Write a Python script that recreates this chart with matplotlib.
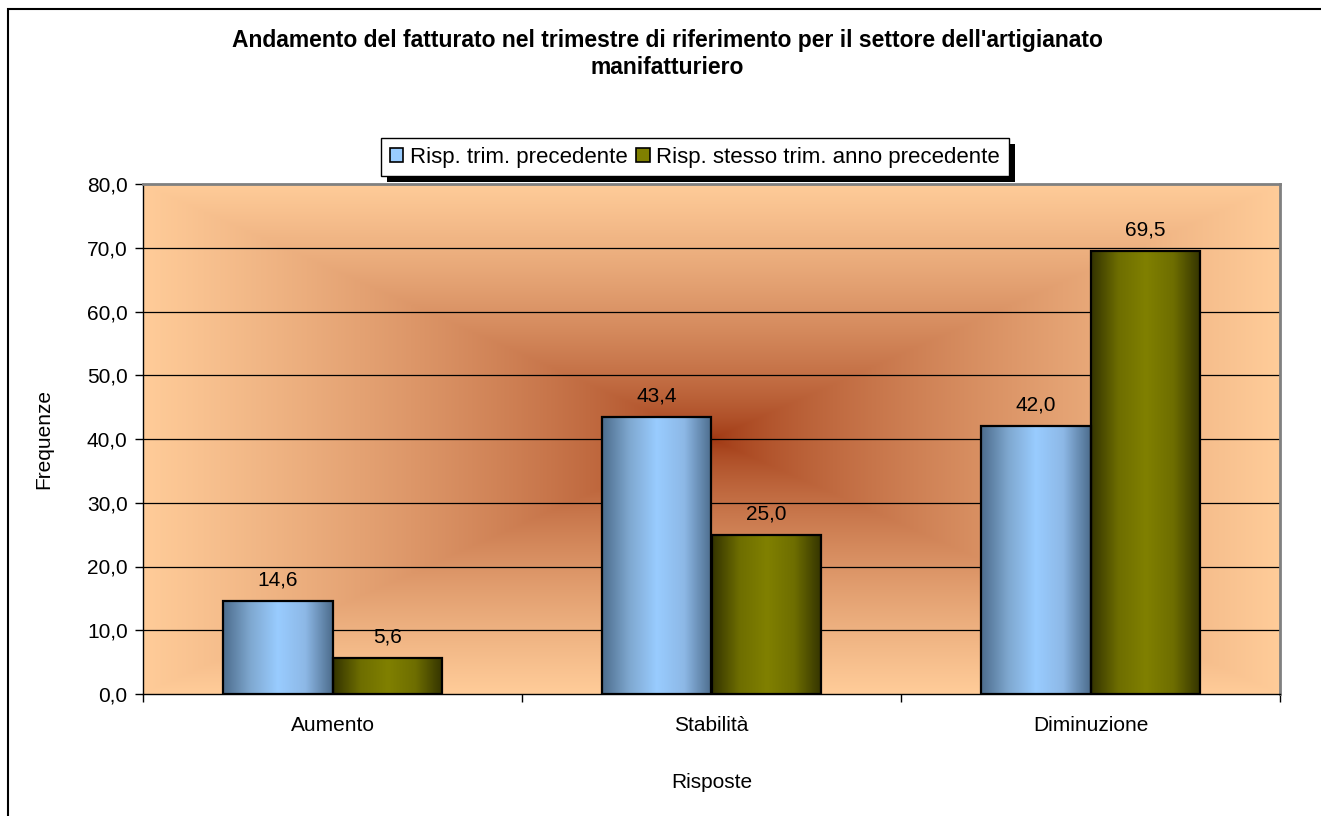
import numpy as np
import matplotlib
matplotlib.use("Agg")
import matplotlib.pyplot as plt
from matplotlib.colors import LinearSegmentedColormap, to_rgb
from matplotlib.patches import Rectangle, Patch

plt.rcParams['font.family'] = ['Liberation Sans', 'DejaVu Sans']

categories = ["Aumento", "Stabilità", "Diminuzione"]
series_names = ["Risp. trim. precedente", "Risp. stesso trim. anno precedente"]
prev_quarter = [14.6, 43.4, 42.0]
prev_year = [5.6, 25.0, 69.5]
y_ticks = [0, 10, 20, 30, 40, 50, 60, 70, 80]

FS = 15
W, H = 1321, 816
fig = plt.figure(figsize=(W / 100, H / 100), dpi=100)
fig.patch.set_facecolor("white")

# outer chart frame
fig.add_artist(Rectangle((8 / W, -0.05), 1.2, 1 - 9 / H + 0.05,
                         transform=fig.transFigure, fill=False,
                         edgecolor="black", linewidth=1.5))

ax = fig.add_axes([143 / W, 1 - 694 / H, (1280 - 143) / W, (694 - 184) / H])

# plot-area background: rectangular gradient, dark centre to peach edges
edge_c = np.array(to_rgb("#FFCC99"))
centre_c = np.array(to_rgb("#9E3510"))
nx, ny = 600, 300
gx = np.linspace(-1, 1, nx)
gy = np.linspace(-1, 1, ny)
X, Y = np.meshgrid(gx, gy)
t = np.maximum(np.abs(X), np.abs(Y))
t = np.clip(t, 0, 1) ** 0.68
bg = centre_c[None, None, :] * (1 - t[..., None]) + edge_c[None, None, :] * t[..., None]
ax.imshow(bg, extent=[0, 1, 0, 1], transform=ax.transAxes, aspect="auto",
          zorder=0, interpolation="bilinear")

ax.set_xlim(0, 3)
ax.set_ylim(0, 80)

for yv in y_ticks[1:-1]:
    ax.axhline(yv, color="black", linewidth=0.9, zorder=1)

x = np.arange(len(categories)) + 0.5
bw = 0.29

blue_cmap = LinearSegmentedColormap.from_list(
    "blue_bar", ["#4C6C8C", "#7FA8D0", "#99CCFF", "#8DB8E6", "#4C6C8C"])
olive_cmap = LinearSegmentedColormap.from_list(
    "olive_bar", ["#333300", "#6E6E00", "#808000", "#6E6E00", "#333300"])

grad = np.linspace(0, 1, 256)[None, :]


def gradient_bars(xs, heights, cmap):
    bars = ax.bar(xs, heights, width=bw, align="edge", facecolor="none",
                  edgecolor="black", linewidth=1.6, zorder=4)
    for b in bars:
        x0, y0 = b.get_x(), b.get_y()
        im = ax.imshow(grad, cmap=cmap, extent=[x0, x0 + b.get_width(), y0, y0 + b.get_height()],
                       aspect="auto", zorder=3, interpolation="bilinear")
        im.set_clip_path(b)
    return bars


b1 = gradient_bars(x - bw, prev_quarter, blue_cmap)
b2 = gradient_bars(x, prev_year, olive_cmap)

for bars, vals in ((b1, prev_quarter), (b2, prev_year)):
    for b, v in zip(bars, vals):
        ax.text(b.get_x() + b.get_width() / 2, v + 1.8, f"{v:.1f}".replace(".", ","),
                ha="center", va="bottom", fontsize=FS, zorder=5)

ax.set_xlim(0, 3)
ax.set_ylim(0, 80)
ax.set_yticks(y_ticks)
ax.set_yticklabels([f"{v:.1f}".replace(".", ",") for v in y_ticks], fontsize=FS)
ax.set_xticks([0, 1, 2, 3])
ax.set_xticklabels([])
ax.set_xticks(x, minor=True)
ax.set_xticklabels(categories, minor=True, fontsize=FS)
ax.tick_params(axis="x", which="minor", length=0, pad=16)
ax.tick_params(axis="x", which="major", length=6, width=1, direction="out")
ax.tick_params(axis="y", length=6, width=1, direction="out", pad=5)

for s in ("top", "right"):
    ax.spines[s].set_color("#808080")
    ax.spines[s].set_linewidth(2)
for s in ("left", "bottom"):
    ax.spines[s].set_color("black")
    ax.spines[s].set_linewidth(1)

ax.set_ylabel("Frequenze", fontsize=FS, labelpad=24)
ax.set_xlabel("Risposte", fontsize=FS, labelpad=27)

fig.text(667 / W, 1 - 40 / H, "Andamento del fatturato nel trimestre di riferimento per il settore dell'artigianato",
         ha="center", va="center", fontsize=16.5, fontweight="bold")
fig.text(667 / W, 1 - 68 / H, "manifatturiero",
         ha="center", va="center", fontsize=16.5, fontweight="bold")

# legend with drop shadow
handles = [Patch(facecolor="#99CCFF", edgecolor="black", linewidth=1.2),
           Patch(facecolor="#808000", edgecolor="black", linewidth=1.2)]
leg = fig.legend(handles, series_names, loc="center", bbox_to_anchor=(695 / W, 1 - 157 / H),
                 ncol=2, fontsize=16, frameon=True, fancybox=False, shadow=False,
                 handlelength=0.6, handleheight=0.6, handletextpad=0.3, columnspacing=0.4,
                 borderpad=0.4, borderaxespad=0, edgecolor="black", framealpha=1)
leg.get_frame().set_linewidth(1)
fig.canvas.draw()
bb = leg.get_window_extent()
fig.add_artist(Rectangle(((bb.x0 + 6) / W, (bb.y0 - 6) / H), bb.width / W, bb.height / H,
                         transform=fig.transFigure, facecolor="black", edgecolor="none",
                         zorder=leg.get_zorder() - 0.5))

fig.savefig("out.png", dpi=100, facecolor="white")
